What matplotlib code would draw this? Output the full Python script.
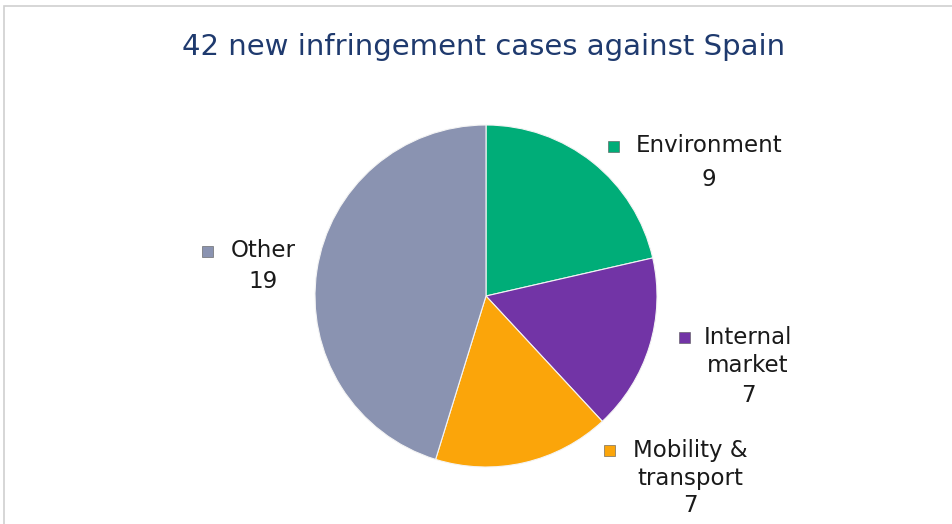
import matplotlib.pyplot as plt
from matplotlib.patches import Rectangle

# ---------------- data ----------------
title = "42 new infringement cases against Spain"
categories = ["Environment", "Internal\nmarket", "Mobility &\ntransport", "Other"]
cases = [9, 7, 7, 19]
colors = ["#00ad78", "#7234a6", "#fba50a", "#8a93b1"]

# label anchor (pixel x centre, pixel y of first line) -- layout only
label_pos = [(709, 146), (748, 337), (690, 450), (263, 251)]
square_x = [614, 684, 610, 208]
line_h = [34, 29, 28, 31]

W, H = 953, 524
fig = plt.figure(figsize=(W / 100, H / 100), dpi=100)

# light frame around the chart area
fig.patches.append(Rectangle((4 / W, -0.02), 1.1, (H - 6) / H + 0.02,
                             transform=fig.transFigure, fill=False,
                             edgecolor="#d0d0d0", lw=1.2))

cx, cy, r = 486, 296, 171
ax = fig.add_axes([(cx - r) / W, (H - cy - r) / H, 2 * r / W, 2 * r / H])
ax.pie(cases, colors=colors, startangle=90, counterclock=False, radius=1,
       wedgeprops=dict(edgecolor="#f4f4f4", linewidth=0.8))
ax.set_xlim(-1, 1)
ax.set_ylim(-1, 1)
ax.set_aspect("equal")
ax.axis("off")

fig.text(484 / W, 1 - 47 / H, title, ha="center", va="center",
         fontsize=21, color="#1f3a6e")

for name, val, col, (lx, ly), sx, lh in zip(categories, cases, colors,
                                           label_pos, square_x, line_h):
    lines = name.split("\n") + [str(val)]
    for i, line in enumerate(lines):
        fig.text(lx / W, 1 - (ly + i * lh) / H, line, ha="center", va="center",
                 fontsize=16.5, color="#1a1a1a")
    s = 11
    fig.patches.append(Rectangle(((sx - s / 2) / W, 1 - (ly + s / 2) / H), s / W, s / H,
                                 transform=fig.transFigure, facecolor=col,
                                 edgecolor="#555555", lw=0.4))

fig.savefig("out.png", dpi=100)
